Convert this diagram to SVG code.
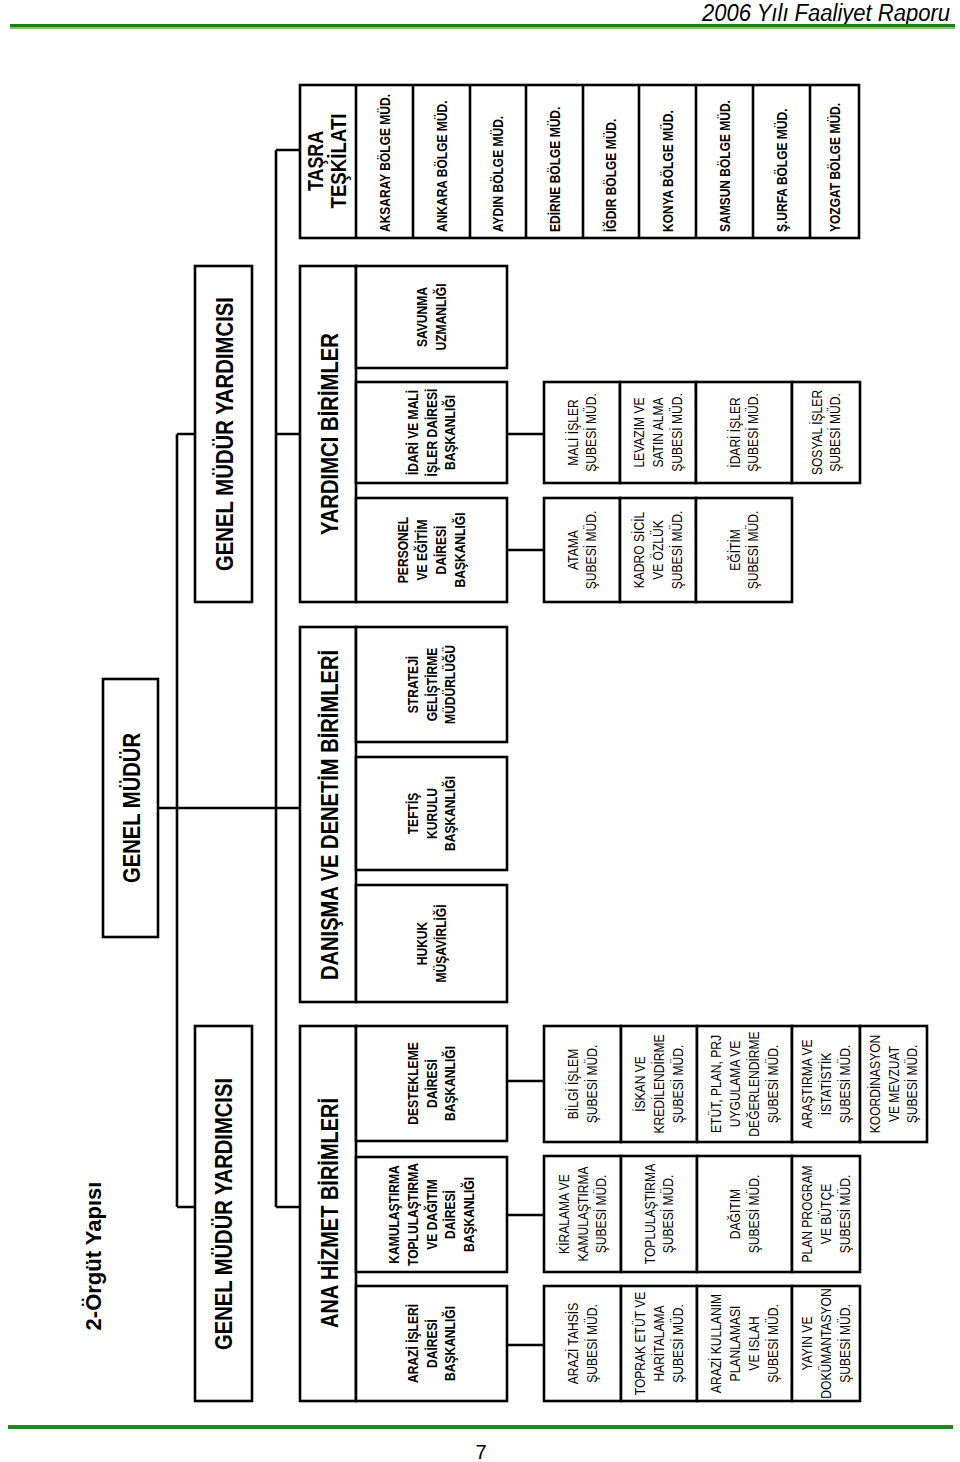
<svg xmlns="http://www.w3.org/2000/svg" width="960" height="1462" viewBox="0 0 960 1462">
<style>
.bx{fill:#fff;stroke:#000;stroke-width:2.6}
.dv{stroke:#000;stroke-width:2.6;fill:none}
.cn{stroke:#000;stroke-width:2.6;fill:none}
text{font-family:"Liberation Sans",Arial,sans-serif;fill:#000}
.h{font-size:24px;font-weight:bold;text-anchor:middle}
.h2{font-size:22px;font-weight:bold;text-anchor:middle}
.t{font-size:15.5px;font-weight:bold;text-anchor:middle}
.g{font-size:15px;font-weight:bold;text-anchor:start}
.s{font-size:15.5px;text-anchor:middle}
</style>
<rect width="960" height="1462" fill="#fff"/>
<!-- page header / footer -->
<g id="page">
<text x="950" y="21" font-size="23" font-style="italic" text-anchor="end" textLength="248" lengthAdjust="spacingAndGlyphs">2006 Yılı Faaliyet Raporu</text>
<rect x="10" y="24" width="945" height="3" fill="#1e7b1e"/>
<rect x="10" y="27" width="945" height="2" fill="#7cc47c"/>
<rect x="8" y="1425" width="945" height="4" fill="#1a8a1a"/>
<text x="481" y="1459" font-size="20" text-anchor="middle">7</text>
<text class="h2" transform="translate(93 1256) rotate(-90)" y="8">2-Örgüt Yapısı</text>
</g>
<!-- connectors -->
<g id="connectors" class="cn">
<path d="M177 434V1207M177 434H195M177 1207H195"/>
<path d="M276 150V1207M276 150H300M276 434H300M276 1207H300"/>
<path d="M158 808H300"/>
<path d="M507 434H544M507 550H544M507 1081H544M507 1215H544M507 1345H544"/>
</g>
<!-- Genel Müdür -->
<g id="genel-mudur">
<rect class="bx" x="103" y="679" width="55" height="258"/>
<text class="h" transform="translate(131 808) rotate(-90)" y="8.5" textLength="150" lengthAdjust="spacingAndGlyphs">GENEL MÜDÜR</text>
</g>
<g id="gmy-1">
<rect class="bx" x="195" y="266" width="57" height="336"/>
<text class="h" transform="translate(224 434) rotate(-90)" y="8.5" textLength="274" lengthAdjust="spacingAndGlyphs">GENEL MÜDÜR YARDIMCISI</text>
</g>
<g id="gmy-2">
<rect class="bx" x="195" y="1026" width="57" height="375"/>
<text class="h" transform="translate(223.5 1214) rotate(-90)" y="8.5" textLength="272" lengthAdjust="spacingAndGlyphs">GENEL MÜDÜR YARDIMCISI</text>
</g>
<!-- Taşra Teşkilatı -->
<g id="tasra">
<rect class="bx" x="300" y="85" width="559" height="153"/>
<path class="dv" d="M356 85V238M413 85V238M470 85V238M526 85V238M583 85V238M639 85V238M696 85V238M753 85V238M810 85V238"/>
<text class="h2" transform="translate(316 161) rotate(-90)"><tspan x="0" y="7" textLength="60" lengthAdjust="spacingAndGlyphs">TAŞRA</tspan><tspan x="0" y="30" textLength="95" lengthAdjust="spacingAndGlyphs">TEŞKİLATI</tspan></text>
<text class="g" transform="translate(384.5 232) rotate(-90) scale(0.8 1)" y="5">AKSARAY BÖLGE MÜD.</text>
<text class="g" transform="translate(441.5 232) rotate(-90) scale(0.8 1)" y="5">ANKARA BÖLGE MÜD.</text>
<text class="g" transform="translate(498 232) rotate(-90) scale(0.8 1)" y="5">AYDIN BÖLGE MÜD.</text>
<text class="g" transform="translate(554.5 232) rotate(-90) scale(0.8 1)" y="5">EDİRNE BÖLGE MÜD.</text>
<text class="g" transform="translate(611 232) rotate(-90) scale(0.8 1)" y="5">İĞDIR BÖLGE MÜD.</text>
<text class="g" transform="translate(667.5 232) rotate(-90) scale(0.8 1)" y="5">KONYA BÖLGE MÜD.</text>
<text class="g" transform="translate(724.5 232) rotate(-90) scale(0.8 1)" y="5">SAMSUN BÖLGE MÜD.</text>
<text class="g" transform="translate(781.5 232) rotate(-90) scale(0.8 1)" y="5">Ş.URFA BÖLGE MÜD.</text>
<text class="g" transform="translate(834.5 232) rotate(-90) scale(0.8 1)" y="5">YOZGAT BÖLGE MÜD.</text>
</g>
<!-- Yardımcı Birimler -->
<g id="yardimci-birimler">
<rect class="bx" x="300" y="266" width="56" height="336"/>
<text class="h" transform="translate(329 434) rotate(-90)" y="8.5" textLength="202" lengthAdjust="spacingAndGlyphs">YARDIMCI BİRİMLER</text>
</g>
<g id="savunma">
<rect class="bx" x="356" y="266" width="151" height="102"/>
<text class="t" transform="translate(431.5 317) rotate(-90) scale(0.78 1)"><tspan x="0" y="-4.5">SAVUNMA</tspan><tspan x="0" y="14.5">UZMANLIĞI</tspan></text>
</g>
<g id="idari-mali">
<rect class="bx" x="356" y="382" width="151" height="101"/>
<text class="t" transform="translate(431.5 432.5) rotate(-90) scale(0.78 1)"><tspan x="0" y="-14">İDARİ VE MALİ</tspan><tspan x="0" y="5">İŞLER DAİRESİ</tspan><tspan x="0" y="24">BAŞKANLIĞI</tspan></text>
</g>
<g id="personel">
<rect class="bx" x="356" y="498" width="151" height="104"/>
<text class="t" transform="translate(431.5 550) rotate(-90) scale(0.78 1)"><tspan x="0" y="-23.5">PERSONEL</tspan><tspan x="0" y="-4.5">VE EĞİTİM</tspan><tspan x="0" y="14.5">DAİRESİ</tspan><tspan x="0" y="33.5">BAŞKANLIĞI</tspan></text>
</g>
<g id="mali-isler">
<rect class="bx" x="544" y="382" width="76" height="101"/>
<text class="s" transform="translate(582 432.5) rotate(-90) scale(0.78 1)"><tspan x="0" y="-4.5">MALİ İŞLER</tspan><tspan x="0" y="14.5">ŞUBESİ MÜD.</tspan></text>
</g>
<g id="levazim">
<rect class="bx" x="620" y="382" width="76" height="101"/>
<text class="s" transform="translate(658 432.5) rotate(-90) scale(0.78 1)"><tspan x="0" y="-14">LEVAZIM VE</tspan><tspan x="0" y="5">SATIN ALMA</tspan><tspan x="0" y="24">ŞUBESİ MÜD.</tspan></text>
</g>
<g id="idari-isler">
<rect class="bx" x="696" y="382" width="96" height="101"/>
<text class="s" transform="translate(744 432.5) rotate(-90) scale(0.78 1)"><tspan x="0" y="-4.5">İDARİ İŞLER</tspan><tspan x="0" y="14.5">ŞUBESİ MÜD.</tspan></text>
</g>
<g id="sosyal-isler">
<rect class="bx" x="792" y="382" width="68" height="101"/>
<text class="s" transform="translate(826 432.5) rotate(-90) scale(0.78 1)"><tspan x="0" y="-4.5">SOSYAL İŞLER</tspan><tspan x="0" y="14.5">ŞUBESİ MÜD.</tspan></text>
</g>
<g id="atama">
<rect class="bx" x="544" y="498" width="76" height="104"/>
<text class="s" transform="translate(582 550) rotate(-90) scale(0.78 1)"><tspan x="0" y="-4.5">ATAMA</tspan><tspan x="0" y="14.5">ŞUBESİ MÜD.</tspan></text>
</g>
<g id="kadro">
<rect class="bx" x="620" y="498" width="76" height="104"/>
<text class="s" transform="translate(658 550) rotate(-90) scale(0.78 1)"><tspan x="0" y="-14">KADRO SİCİL</tspan><tspan x="0" y="5">VE ÖZLÜK</tspan><tspan x="0" y="24">ŞUBESİ MÜD.</tspan></text>
</g>
<g id="egitim">
<rect class="bx" x="696" y="498" width="96" height="104"/>
<text class="s" transform="translate(744 550) rotate(-90) scale(0.78 1)"><tspan x="0" y="-4.5">EĞİTİM</tspan><tspan x="0" y="14.5">ŞUBESİ MÜD.</tspan></text>
</g>
<!-- Danışma ve Denetim -->
<g id="danisma">
<rect class="bx" x="300" y="627" width="56" height="375"/>
<text class="h" transform="translate(329 815) rotate(-90)" y="8.5" textLength="330" lengthAdjust="spacingAndGlyphs">DANIŞMA VE DENETİM BİRİMLERİ</text>
</g>
<g id="strateji">
<rect class="bx" x="356" y="627" width="151" height="115"/>
<text class="t" transform="translate(431.5 684.5) rotate(-90) scale(0.78 1)"><tspan x="0" y="-14">STRATEJİ</tspan><tspan x="0" y="5">GELİŞTİRME</tspan><tspan x="0" y="24">MÜDÜRLÜĞÜ</tspan></text>
</g>
<g id="teftis">
<rect class="bx" x="356" y="757" width="151" height="113"/>
<text class="t" transform="translate(431.5 813.5) rotate(-90) scale(0.78 1)"><tspan x="0" y="-14">TEFTİŞ</tspan><tspan x="0" y="5">KURULU</tspan><tspan x="0" y="24">BAŞKANLIĞI</tspan></text>
</g>
<g id="hukuk">
<rect class="bx" x="356" y="885" width="151" height="117"/>
<text class="t" transform="translate(431.5 943.5) rotate(-90) scale(0.78 1)"><tspan x="0" y="-4.5">HUKUK</tspan><tspan x="0" y="14.5">MÜŞAVİRLİĞİ</tspan></text>
</g>
<!-- Ana Hizmet Birimleri -->
<g id="ana-hizmet">
<rect class="bx" x="300" y="1026" width="56" height="375"/>
<text class="h" transform="translate(329 1213) rotate(-90)" y="8.5" textLength="230" lengthAdjust="spacingAndGlyphs">ANA HİZMET BİRİMLERİ</text>
</g>
<g id="destekleme">
<rect class="bx" x="356" y="1026" width="151" height="115"/>
<text class="t" transform="translate(431.5 1083.5) rotate(-90) scale(0.78 1)"><tspan x="0" y="-14">DESTEKLEME</tspan><tspan x="0" y="5">DAİRESİ</tspan><tspan x="0" y="24">BAŞKANLIĞI</tspan></text>
</g>
<g id="kamulastirma">
<rect class="bx" x="356" y="1157" width="151" height="115"/>
<text class="t" transform="translate(431.5 1214.5) rotate(-90) scale(0.78 1)"><tspan x="0" y="-33">KAMULAŞTIRMA</tspan><tspan x="0" y="-14">TOPLULAŞTIRMA</tspan><tspan x="0" y="5">VE DAĞITIM</tspan><tspan x="0" y="24">DAİRESİ</tspan><tspan x="0" y="43">BAŞKANLIĞI</tspan></text>
</g>
<g id="arazi-isleri">
<rect class="bx" x="356" y="1286" width="151" height="115"/>
<text class="t" transform="translate(431.5 1343.5) rotate(-90) scale(0.78 1)"><tspan x="0" y="-14">ARAZİ İŞLERİ</tspan><tspan x="0" y="5">DAİRESİ</tspan><tspan x="0" y="24">BAŞKANLIĞI</tspan></text>
</g>
<!-- şube row 1 -->
<g id="bilgi-islem">
<rect class="bx" x="544" y="1026" width="77" height="116"/>
<text class="s" transform="translate(582.5 1084) rotate(-90) scale(0.78 1)"><tspan x="0" y="-4.5">BİLGİ İŞLEM</tspan><tspan x="0" y="14.5">ŞUBESİ MÜD.</tspan></text>
</g>
<g id="iskan">
<rect class="bx" x="621" y="1026" width="76" height="116"/>
<text class="s" transform="translate(659 1084) rotate(-90) scale(0.78 1)"><tspan x="0" y="-14">İSKAN VE</tspan><tspan x="0" y="5">KREDİLENDİRME</tspan><tspan x="0" y="24">ŞUBESİ MÜD.</tspan></text>
</g>
<g id="etut-plan">
<rect class="bx" x="697" y="1026" width="95" height="116"/>
<text class="s" transform="translate(744.5 1084) rotate(-90) scale(0.78 1)"><tspan x="0" y="-23.5">ETÜT, PLAN, PRJ</tspan><tspan x="0" y="-4.5">UYGULAMA VE</tspan><tspan x="0" y="14.5">DEĞERLENDİRME</tspan><tspan x="0" y="33.5">ŞUBESİ MÜD.</tspan></text>
</g>
<g id="arastirma">
<rect class="bx" x="792" y="1026" width="68" height="116"/>
<text class="s" transform="translate(826 1084) rotate(-90) scale(0.78 1)"><tspan x="0" y="-14">ARAŞTIRMA VE</tspan><tspan x="0" y="5">İSTATİSTİK</tspan><tspan x="0" y="24">ŞUBESİ MÜD.</tspan></text>
</g>
<g id="koordinasyon">
<rect class="bx" x="860" y="1026" width="67" height="116"/>
<text class="s" transform="translate(893.5 1084) rotate(-90) scale(0.78 1)"><tspan x="0" y="-14">KOORDİNASYON</tspan><tspan x="0" y="5">VE MEVZUAT</tspan><tspan x="0" y="24">ŞUBESİ MÜD.</tspan></text>
</g>
<!-- şube row 2 -->
<g id="kiralama">
<rect class="bx" x="544" y="1156" width="77" height="116"/>
<text class="s" transform="translate(582.5 1214) rotate(-90) scale(0.78 1)"><tspan x="0" y="-14">KİRALAMA VE</tspan><tspan x="0" y="5">KAMULAŞTIRMA</tspan><tspan x="0" y="24">ŞUBESİ MÜD.</tspan></text>
</g>
<g id="toplulastirma">
<rect class="bx" x="621" y="1156" width="76" height="116"/>
<text class="s" transform="translate(659 1214) rotate(-90) scale(0.78 1)"><tspan x="0" y="-4.5">TOPLULAŞTIRMA</tspan><tspan x="0" y="14.5">ŞUBESİ MÜD.</tspan></text>
</g>
<g id="dagitim">
<rect class="bx" x="697" y="1156" width="95" height="116"/>
<text class="s" transform="translate(744.5 1214) rotate(-90) scale(0.78 1)"><tspan x="0" y="-4.5">DAĞITIM</tspan><tspan x="0" y="14.5">ŞUBESİ MÜD.</tspan></text>
</g>
<g id="plan-program">
<rect class="bx" x="792" y="1156" width="68" height="116"/>
<text class="s" transform="translate(826 1214) rotate(-90) scale(0.78 1)"><tspan x="0" y="-14">PLAN PROGRAM</tspan><tspan x="0" y="5">VE BÜTÇE</tspan><tspan x="0" y="24">ŞUBESİ MÜD.</tspan></text>
</g>
<!-- şube row 3 -->
<g id="arazi-tahsis">
<rect class="bx" x="544" y="1286" width="77" height="115"/>
<text class="s" transform="translate(582.5 1343.5) rotate(-90) scale(0.78 1)"><tspan x="0" y="-4.5">ARAZİ TAHSİS</tspan><tspan x="0" y="14.5">ŞUBESİ MÜD.</tspan></text>
</g>
<g id="toprak-etut">
<rect class="bx" x="621" y="1286" width="76" height="115"/>
<text class="s" transform="translate(659 1343.5) rotate(-90) scale(0.78 1)"><tspan x="0" y="-14">TOPRAK ETÜT VE</tspan><tspan x="0" y="5">HARİTALAMA</tspan><tspan x="0" y="24">ŞUBESİ MÜD.</tspan></text>
</g>
<g id="arazi-kullanim">
<rect class="bx" x="697" y="1286" width="95" height="115"/>
<text class="s" transform="translate(744.5 1343.5) rotate(-90) scale(0.78 1)"><tspan x="0" y="-23.5">ARAZİ KULLANIM</tspan><tspan x="0" y="-4.5">PLANLAMASI</tspan><tspan x="0" y="14.5">VE ISLAH</tspan><tspan x="0" y="33.5">ŞUBESİ MÜD.</tspan></text>
</g>
<g id="yayin">
<rect class="bx" x="792" y="1286" width="68" height="115"/>
<text class="s" transform="translate(826 1343.5) rotate(-90) scale(0.78 1)"><tspan x="0" y="-14">YAYIN VE</tspan><tspan x="0" y="5">DOKÜMANTASYON</tspan><tspan x="0" y="24">ŞUBESİ MÜD.</tspan></text>
</g>
</svg>
